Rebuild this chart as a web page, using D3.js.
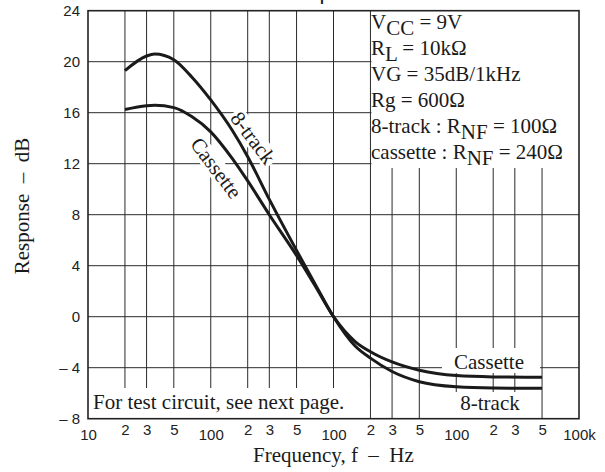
<!DOCTYPE html>
<html>
<head>
<meta charset="utf-8">
<script src="https://cdn.jsdelivr.net/npm/d3@7"></script>
<style>
  body { margin: 0; background: #fff; }
  svg { display: block; }
  .serif { font-family: "Liberation Serif", "Times New Roman", serif; }
  .sans { font-family: "Liberation Sans", Arial, sans-serif; }
</style>
</head>
<body>
<div id="wrapper"></div>
<script>
// values
const frequencies = [20, 30, 35, 50, 70, 100, 150, 200, 300, 500, 700, 1000, 1500, 2000, 3000, 5000, 10000, 20000, 50000]
const track8Db = [19.3, 20.45, 20.6, 20.15, 18.8, 17.0, 14.6, 12.55, 9.2, 5.2, 2.65, 0, -2.3, -3.25, -4.3, -5.1, -5.5, -5.6, -5.62]
const cassetteDb = [16.25, 16.55, 16.58, 16.4, 15.7, 14.5, 12.4, 10.65, 8.0, 4.8, 2.5, 0, -1.95, -2.75, -3.55, -4.2, -4.62, -4.72, -4.75]

const xTickValues = [10, 20, 30, 50, 100, 200, 300, 500, 1000, 2000, 3000, 5000, 10000, 20000, 30000, 50000, 100000]
const xTickLabels = ["10", "2", "3", "5", "100", "2", "3", "5", "100", "2", "3", "5", "100", "2", "3", "5", "100k"]
const yTickValues = [-8, -4, 0, 4, 8, 12, 16, 20, 24]
const yGridValues = [-4, 0, 4, 8, 12, 16, 20]

const conditions = [
    [["V"], ["CC", true], [" = 9V"]],
    [["R"], ["L", true], [" = 10kΩ"]],
    [["VG = 35dB/1kHz"]],
    [["Rg = 600Ω"]],
    [["8-track : R"], ["NF", true], [" = 100Ω"]],
    [["cassette : R"], ["NF", true], [" = 240Ω"]],
]

const dimensions = {
    width: 605,
    height: 472,
    margin: { top: 10.7, right: 26, bottom: 53.3, left: 88 },
}
dimensions.boundedWidth = dimensions.width - dimensions.margin.left - dimensions.margin.right
dimensions.boundedHeight = dimensions.height - dimensions.margin.top - dimensions.margin.bottom

const svg = d3.select("#wrapper")
    .append("svg")
    .attr("width", dimensions.width)
    .attr("height", dimensions.height)

const xScale = d3.scaleLog()
    .domain([10, 100000])
    .range([dimensions.margin.left, dimensions.margin.left + dimensions.boundedWidth])

const yScale = d3.scaleLinear()
    .domain([-8, 24])
    .range([dimensions.margin.top + dimensions.boundedHeight, dimensions.margin.top])

const plotTop = yScale(24), plotBottom = yScale(-8), plotLeft = xScale(10), plotRight = xScale(100000)

// grid
svg.append("g").selectAll("line")
    .data(xTickValues.slice(1, -1))
    .join("line")
    .attr("x1", d => xScale(d)).attr("x2", d => xScale(d))
    .attr("y1", plotTop).attr("y2", plotBottom)
    .attr("stroke", "#2a2a2a")
    .attr("stroke-width", 1)

svg.append("g").selectAll("line")
    .data(yGridValues)
    .join("line")
    .attr("x1", plotLeft).attr("x2", plotRight)
    .attr("y1", d => yScale(d)).attr("y2", d => yScale(d))
    .attr("stroke", "#2a2a2a")
    .attr("stroke-width", 1)

// white boxes over the grid
const x2k = xScale(2000)
svg.append("rect")
    .attr("x", x2k + 1).attr("y", plotTop)
    .attr("width", plotRight - x2k - 1).attr("height", 168 - plotTop)
    .attr("fill", "#fff")
svg.append("rect")
    .attr("x", plotLeft).attr("y", 388)
    .attr("width", x2k - 1 - plotLeft).attr("height", plotBottom - 388)
    .attr("fill", "#fff")
svg.append("rect")
    .attr("x", 442).attr("y", 348).attr("width", 98).attr("height", 25)
    .attr("fill", "#fff")
svg.append("rect")
    .attr("x", 448).attr("y", 392).attr("width", 93).attr("height", plotBottom - 392)
    .attr("fill", "#fff")

// rotated curve labels with white backing
const rotLabels = [
    { text: "8-track", cx: 253, cy: 138, w: 64 },
    { text: "Cassette", cx: 216, cy: 168, w: 74 },
]
const rl = svg.append("g").selectAll("g")
    .data(rotLabels)
    .join("g")
    .attr("transform", d => `translate(${d.cx},${d.cy}) rotate(53)`)
rl.append("rect")
    .attr("x", d => -d.w / 2).attr("y", -10)
    .attr("width", d => d.w).attr("height", 20)
    .attr("fill", "#fff")

// curves
const line = d3.line()
    .x((d, i) => xScale(frequencies[i]))
    .y(d => yScale(d))
    .curve(d3.curveMonotoneX)

svg.append("g").selectAll("path")
    .data([track8Db, cassetteDb])
    .join("path")
    .attr("d", line)
    .attr("fill", "none")
    .attr("stroke", "#1a1a1a")
    .attr("stroke-width", 3)
    .attr("stroke-linejoin", "round")

rl.append("text")
    .attr("class", "serif")
    .attr("text-anchor", "middle")
    .attr("dy", "0.33em")
    .attr("font-size", 21)
    .attr("fill", "#1a1a1a")
    .text(d => d.text)

// frame
svg.append("rect")
    .attr("x", plotLeft).attr("y", plotTop)
    .attr("width", plotRight - plotLeft).attr("height", plotBottom - plotTop)
    .attr("fill", "none")
    .attr("stroke", "#222")
    .attr("stroke-width", 1.6)

// axes
const xAxisGenerator = d3.axisBottom(xScale)
    .tickValues(xTickValues)
    .tickFormat((d, i) => xTickLabels[i])
    .tickSize(0)

const xAxis = svg.append("g")
    .attr("transform", `translate(0,${plotBottom})`)
    .call(xAxisGenerator)
xAxis.select(".domain").remove()
xAxis.selectAll("text")
    .attr("class", "sans")
    .attr("font-size", 15)
    .attr("fill", "#222")
    .attr("dy", null)
    .attr("y", (d, i) => xTickLabels[i].startsWith("10") ? 21.5 : 16.5)

const yAxisGenerator = d3.axisLeft(yScale)
    .tickValues(yTickValues)
    .tickFormat(d => d < 0 ? "– " + (-d) : d)
    .tickSize(0)
    .tickPadding(8)

const yAxis = svg.append("g")
    .attr("transform", `translate(${plotLeft},0)`)
    .call(yAxisGenerator)
yAxis.select(".domain").remove()
yAxis.selectAll("text")
    .attr("class", "sans")
    .attr("font-size", 15)
    .attr("fill", "#222")

// conditions box text
const cond = svg.append("g")
    .attr("class", "serif")
    .attr("font-size", 21)
    .attr("fill", "#1a1a1a")
cond.selectAll("text")
    .data(conditions)
    .join("text")
    .attr("x", 371)
    .attr("y", (d, i) => 28.8 + i * 26)
    .each(function (parts) {
        const t = d3.select(this)
        let shifted = false
        parts.forEach(([s, sub]) => {
            const span = t.append("tspan").text(s)
            if (sub && !shifted) { span.attr("dy", 6); shifted = true }
            else if (!sub && shifted) { span.attr("dy", -6); shifted = false }
        })
    })

// other texts
svg.append("text")
    .attr("class", "serif")
    .attr("x", 93).attr("y", 409)
    .attr("font-size", 21)
    .attr("fill", "#1a1a1a")
    .text("For test circuit, see next page.")

svg.append("text")
    .attr("class", "serif")
    .attr("x", 489).attr("y", 369)
    .attr("text-anchor", "middle")
    .attr("font-size", 21)
    .attr("fill", "#1a1a1a")
    .text("Cassette")

svg.append("text")
    .attr("class", "serif")
    .attr("x", 490).attr("y", 410)
    .attr("text-anchor", "middle")
    .attr("font-size", 21)
    .attr("fill", "#1a1a1a")
    .text("8-track")

svg.append("text")
    .attr("class", "serif")
    .attr("x", (plotLeft + plotRight) / 2).attr("y", 462)
    .attr("text-anchor", "middle")
    .attr("font-size", 21)
    .attr("fill", "#1a1a1a")
    .text("Frequency, f\u00A0 –\u00A0 Hz")

svg.append("text")
    .attr("class", "serif")
    .attr("transform", "translate(29,206) rotate(-90)")
    .attr("text-anchor", "middle")
    .attr("font-size", 21)
    .attr("fill", "#1a1a1a")
    .text("Response\u00A0 –\u00A0 dB")

svg.append("text")
    .attr("class", "sans")
    .attr("x", 330).attr("y", -1)
    .attr("text-anchor", "middle")
    .attr("font-size", 22)
    .attr("fill", "#1a1a1a")
    .text("Response")
</script>
</body>
</html>
